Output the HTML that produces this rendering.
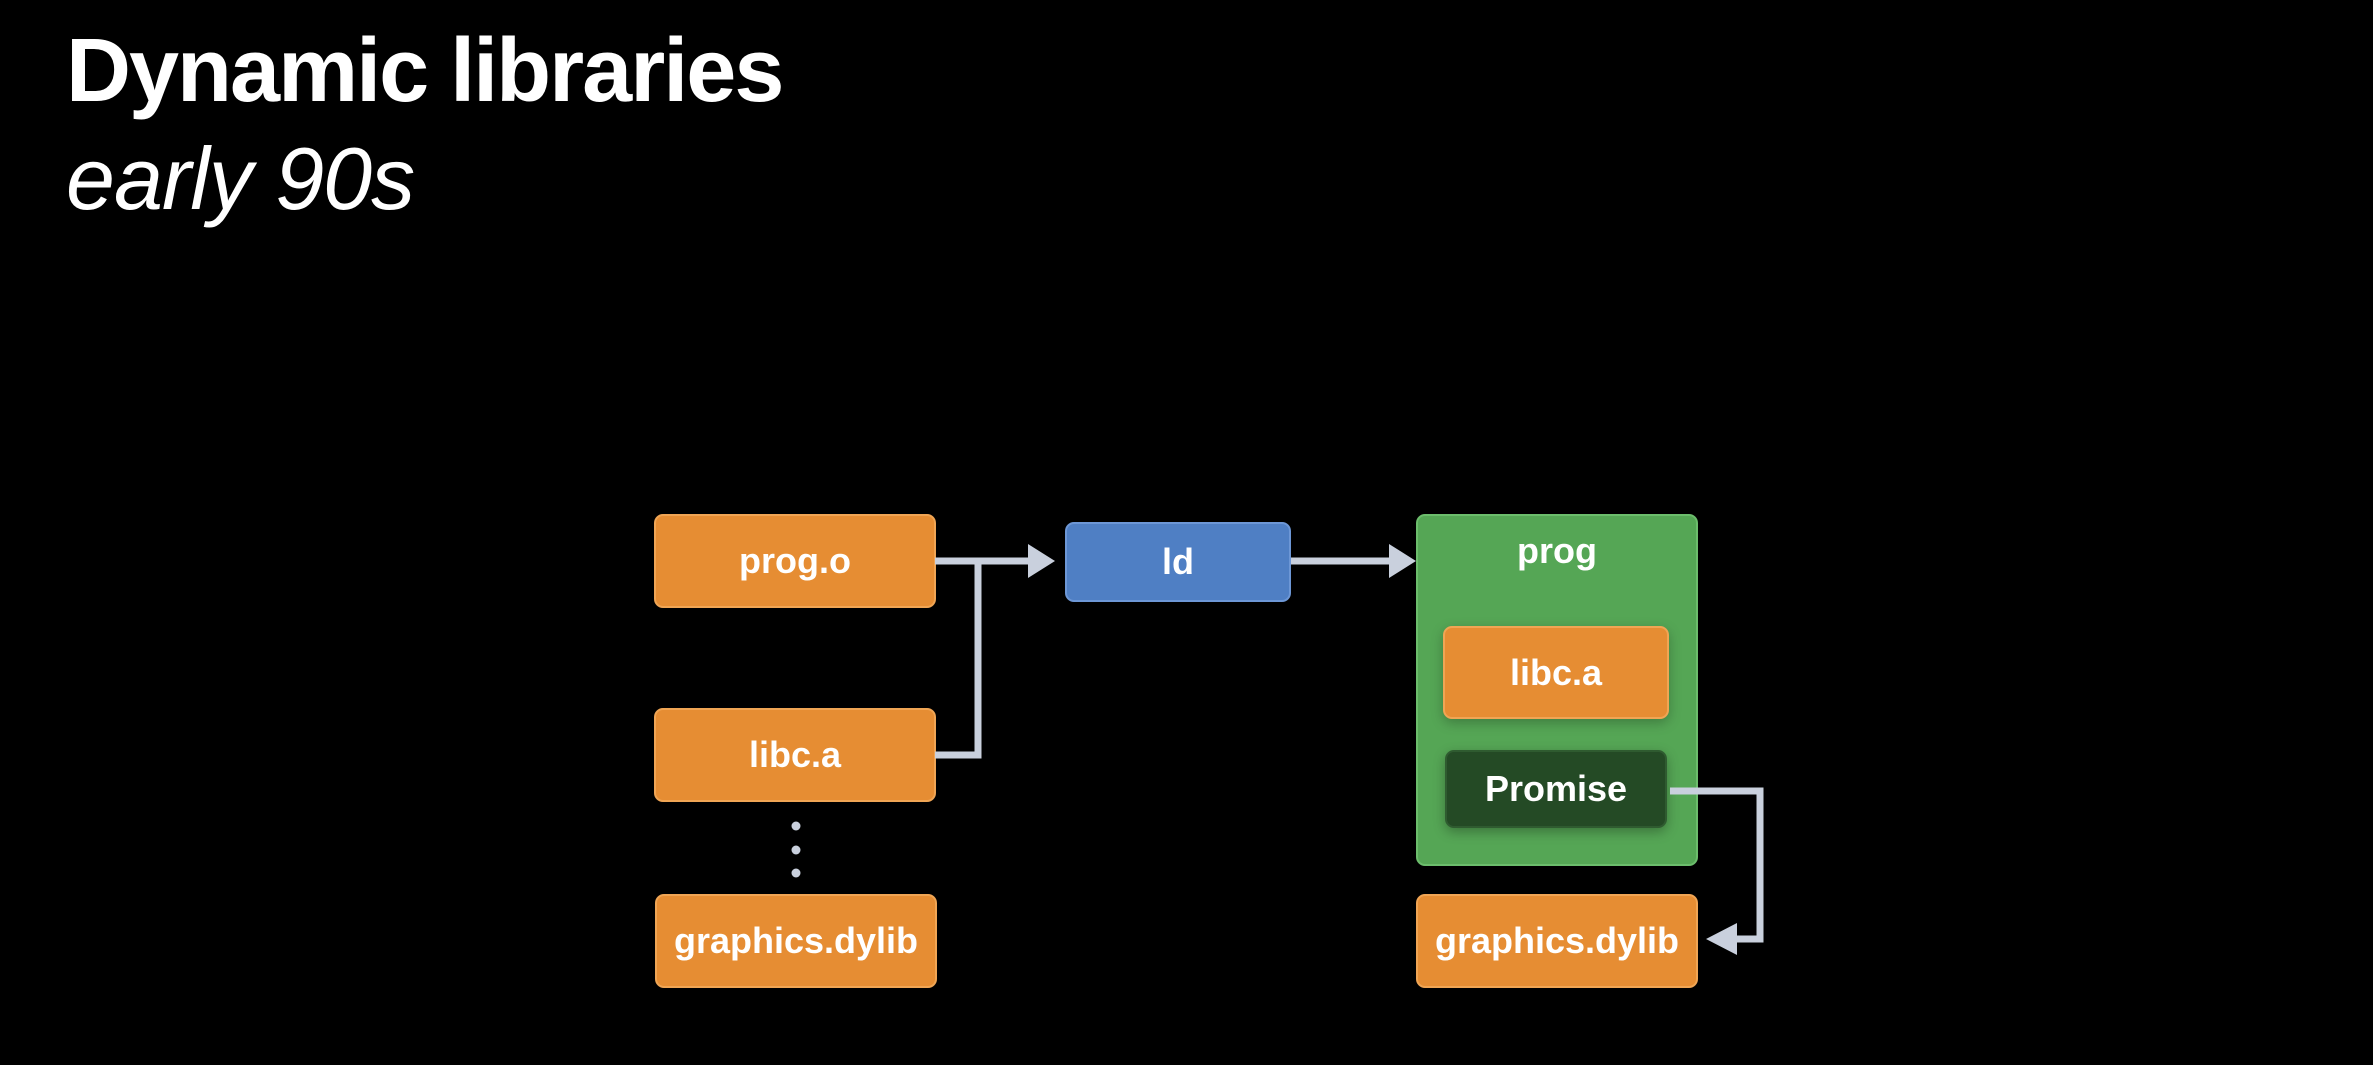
<!DOCTYPE html>
<html><head><style>
body{margin:0;width:2373px;height:1065px;background:#000;overflow:hidden;position:relative;font-family:"Liberation Sans",sans-serif}
.t{position:absolute;color:#fff;white-space:nowrap}
.n{position:absolute;box-sizing:border-box;border-radius:9px;color:#fff;font-size:36px;display:flex;align-items:center;justify-content:center;font-weight:bold}
.o{background:#e68d33;border:2px solid #f0a554}
svg{z-index:5}
</style></head><body>
<div class="t" style="left:66px;top:20px;font-size:90px;font-weight:bold;letter-spacing:-2px">Dynamic libraries</div>
<div class="t" style="left:66px;top:128px;font-size:88px;font-style:italic;letter-spacing:-1px">early 90s</div>
<div class="n o" style="left:654px;top:514px;width:282px;height:94px">prog.o</div>
<div class="n o" style="left:654px;top:708px;width:282px;height:94px">libc.a</div>
<div class="n o" style="left:655px;top:894px;width:282px;height:94px">graphics.dylib</div>
<div class="n" style="left:1065px;top:522px;width:226px;height:80px;background:#4f7fc4;border:2px solid #6d97d6">ld</div>
<div class="n" style="left:1416px;top:514px;width:282px;height:352px;background:#55a655;border:2px solid #6cbd6c;align-items:flex-start;padding-top:14px">prog</div>
<div class="n o" style="left:1443px;top:626px;width:226px;height:93px;box-shadow:0 4px 12px rgba(0,0,0,.25)">libc.a</div>
<div class="n" style="left:1445px;top:750px;width:222px;height:78px;background:#244a25;border:2px solid #2f5b30;box-shadow:0 4px 12px rgba(0,0,0,.3)">Promise</div>
<div class="n o" style="left:1416px;top:894px;width:282px;height:94px">graphics.dylib</div>
<svg style="position:absolute;left:0;top:0" width="2373" height="1065">
<g fill="none" stroke="#c9d0dd" stroke-width="7">
<path d="M935 561H1040"/>
<path d="M935 755H978V561"/>
<path d="M1291 561H1390"/>
<path d="M1670 791H1760V939H1730"/>
</g>
<g fill="#c9d0dd">
<path d="M1055 561l-27-17v34z"/>
<path d="M1416 561l-27-17v34z"/>
<path d="M1706 939l31-16v32z"/>
<circle cx="796" cy="826" r="4.5"/><circle cx="796" cy="850" r="4.5"/><circle cx="796" cy="873" r="4.5"/>
</g>
</svg>
</body></html>
